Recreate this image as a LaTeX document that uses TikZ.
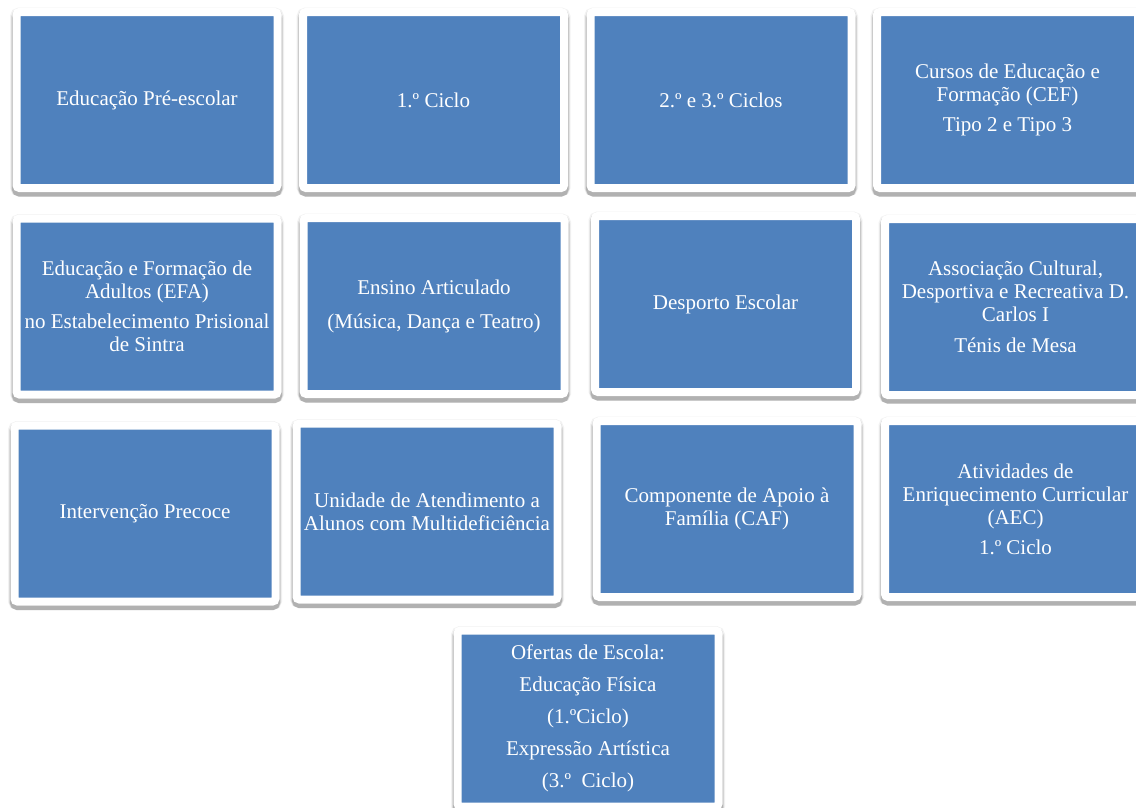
\documentclass[tikz,border=0pt]{standalone}
\usepackage{fontspec}
\setmainfont{Liberation Serif}
\usetikzlibrary{shadows}
\definecolor{tileblue}{RGB}{79,129,189}
\begin{document}
\begin{tikzpicture}[x=1pt,y=-1pt,
    tile/.style={draw=white, line width=8pt, rounded corners=3pt, fill=tileblue,
      text=white, font=\fontsize{21}{23}\selectfont, align=center, inner sep=0pt,
      minimum width=261pt, minimum height=176pt,
      drop shadow={shadow xshift=0pt, shadow yshift=-2pt, draw=black, line width=13pt, opacity=.05},
      drop shadow={shadow xshift=0pt, shadow yshift=-3pt, draw=black, line width=11pt, opacity=.10},
      drop shadow={shadow xshift=0pt, shadow yshift=-4pt, draw=black, line width=9pt, opacity=.18}}]
    \useasboundingbox[fill=white] (0,0) rectangle (1136,807);
    \clip (0,0) rectangle (1136,807);
    \node[tile] (pre) at (147,100) {Educação Pré-escolar};
    \node[tile] (ciclo1) at (433.5,100) {1.º Ciclo};
    \node[tile] (ciclos23) at (721,100) {2.º e 3.º Ciclos};
    \node[tile] (cef) at (1007.5,100) {Cursos de Educação e\\Formação (CEF)\\[7pt]Tipo 2 e Tipo 3};
    \node[tile] (efa) at (147,306.5) {Educação e Formação de\\Adultos (EFA)\\[7pt]no Estabelecimento Prisional\\de Sintra};
    \node[tile] (ensino) at (434,306) {Ensino Articulado\\[11pt](Música, Dança e Teatro)};
    \node[tile] (desporto) at (725.5,304) {Desporto Escolar};
    \node[tile] (assoc) at (1015.5,307) {Associação Cultural,\\Desportiva e Recreativa D.\\Carlos I\\[8pt]Ténis de Mesa};
    \node[tile] (precoce) at (145,513.5) {Intervenção Precoce};
    \node[tile] (unidade) at (427,511.5) {Unidade de Atendimento a\\Alunos com Multideficiência};
    \node[tile] (caf) at (727,509) {Componente de Apoio à\\Família (CAF)};
    \node[tile] (aec) at (1015.5,509) {Atividades de\\Enriquecimento Curricular\\(AEC)\\[7pt]1.º Ciclo};
    \node[tile] (ofertas) at (588,718.5) {Ofertas de Escola:\\[9pt]Educação Física\\[9pt](1.ºCiclo)\\[9pt]Expressão Artística\\[9pt](3.º\ \ Ciclo)};
\end{tikzpicture}
\end{document}
